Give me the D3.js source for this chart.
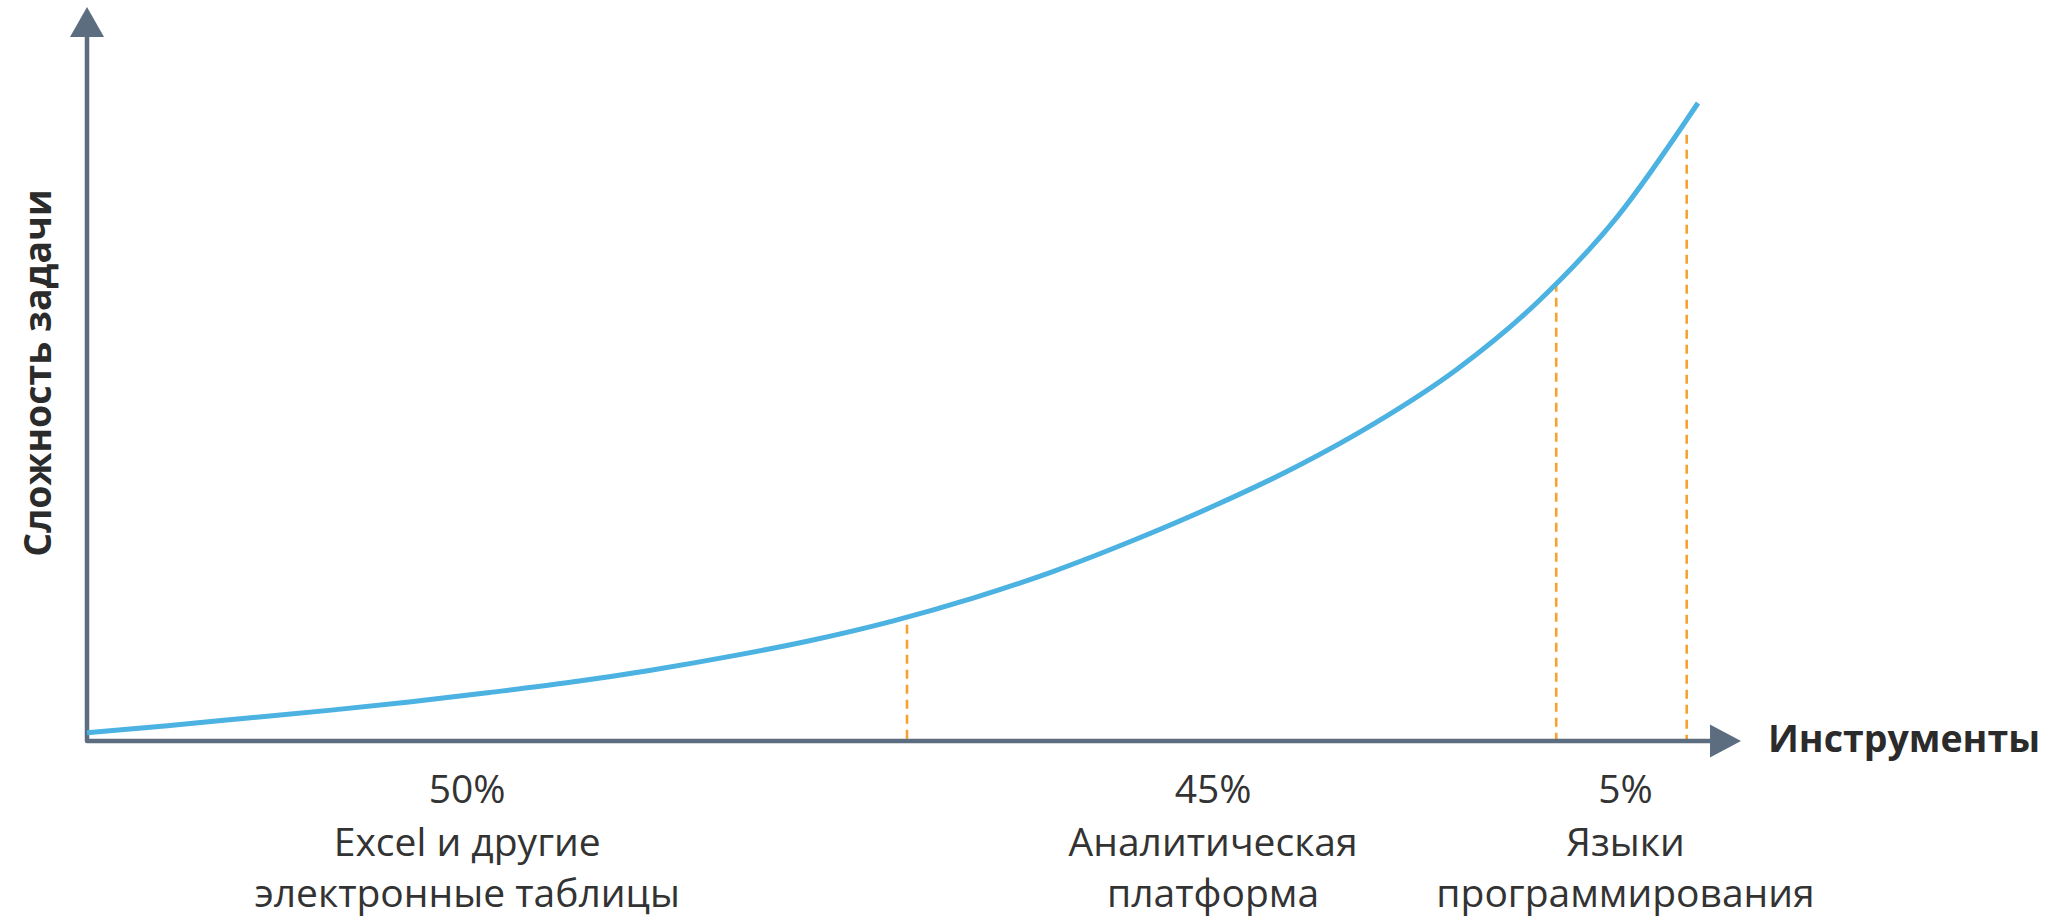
<!DOCTYPE html>
<html>
<head>
<meta charset="utf-8">
<title>Сложность задачи</title>
<script src="https://cdn.jsdelivr.net/npm/d3@7"></script>
<style>
body { margin: 0; background: #fff; }
text { font-family: "Open Sans", "Noto Sans", sans-serif; fill: #333; }
.axis-title { font-weight: 700; font-size: 37.5px; fill: #2b2b2b; }
.seg-label { font-size: 39px; }
</style>
</head>
<body>
<script>
// curve (x: 0..100 along the tools axis, y: 0..100 complexity)
var curveX = [0, 5, 10, 15, 20, 25, 30, 35, 40, 45, 50, 55, 60, 65, 70, 75, 80, 85, 90, 95, 100];
var curveY = [1.3, 2.4, 3.6, 4.8, 6.1, 7.6, 9.2, 11.1, 13.3, 15.8, 18.8, 22.4, 26.6, 31.5, 36.9, 42.9, 49.9, 58.2, 68.7, 82.2, 100];

// dashed dividers between the groups of tools
var dividerX = [50.9, 91.2, 99.3];
var dividerY = [18.7, 72.3, 95.5];

// groups under the axis
var shares = ["50%", "45%", "5%"];
var toolNames = [["Excel и другие", "электронные таблицы"], ["Аналитическая", "платформа"], ["Языки", "программирования"]];
var labelX = [23.6, 69.9, 95.5];

var xTitle = "Инструменты";
var yTitle = "Сложность задачи";

var w = 2054, h = 923;
var svg = d3.select("body").append("svg").attr("width", w).attr("height", h);

var x = d3.scaleLinear().domain([0, 100]).range([87, 1698]);
var y = d3.scaleLinear().domain([0, 100]).range([741, 103]);

var axisColor = "#5c6d80";

// dashed dividers
svg.selectAll(".divider").data(dividerX).enter().append("line")
	.attr("class", "divider")
	.attr("x1", function(d){ return x(d); })
	.attr("x2", function(d){ return x(d); })
	.attr("y1", function(d, i){ return y(dividerY[i]) + 3; })
	.attr("y2", y(0))
	.attr("stroke", "#f7a130")
	.attr("stroke-width", 2.6)
	.attr("stroke-dasharray", "9,6");

// axes with arrows
var x0 = x(0), y0 = y(0);
svg.append("path")
	.attr("d", "M" + x0 + ",37 L" + x0 + "," + y0 + " L1712," + y0)
	.attr("fill", "none")
	.attr("stroke", axisColor)
	.attr("stroke-width", 4.5)
	.attr("stroke-linejoin", "round");
svg.append("path")
	.attr("d", "M" + x0 + ",7 L" + (x0 - 17) + ",37 L" + (x0 + 17) + ",37 Z")
	.attr("fill", axisColor);
svg.append("path")
	.attr("d", "M1741," + y0 + " L1710," + (y0 - 16.5) + " L1710," + (y0 + 16.5) + " Z")
	.attr("fill", axisColor);

// the curve
var line = d3.line()
	.x(function(d){ return x(d[0]); })
	.y(function(d){ return y(d[1]); })
	.curve(d3.curveMonotoneX);
svg.append("path")
	.datum(curveX.map(function(d, i){ return [d, curveY[i]]; }))
	.attr("d", line)
	.attr("fill", "none")
	.attr("stroke", "#4bb2e1")
	.attr("stroke-width", 5)
	.attr("stroke-linecap", "butt");

// axis titles
svg.append("text")
	.attr("class", "axis-title")
	.attr("x", 1768)
	.attr("y", 752)
	.text(xTitle);
svg.append("text")
	.attr("class", "axis-title")
	.attr("transform", "translate(51,373) rotate(-90)")
	.attr("text-anchor", "middle")
	.text(yTitle);

// group labels
var groups = svg.selectAll(".seg").data(labelX).enter().append("text")
	.attr("class", "seg-label")
	.attr("text-anchor", "middle");
groups.append("tspan")
	.attr("x", function(d){ return x(d); })
	.attr("y", 803)
	.text(function(d, i){ return shares[i]; });
groups.append("tspan")
	.attr("x", function(d){ return x(d); })
	.attr("y", 856)
	.text(function(d, i){ return toolNames[i][0]; });
groups.append("tspan")
	.attr("x", function(d){ return x(d); })
	.attr("y", 907)
	.text(function(d, i){ return toolNames[i][1]; });
</script>
</body>
</html>
